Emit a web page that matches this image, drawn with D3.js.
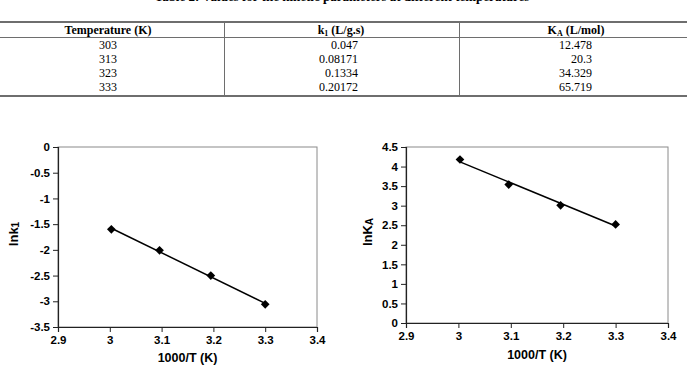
<!DOCTYPE html>
<html>
<head>
<meta charset="utf-8">
<script src="https://cdn.jsdelivr.net/npm/d3@7"></script>
<style>
	body { margin: 0; background: #fff; }
	svg { display: block; }
</style>
</head>
<body>
<div id="chart"></div>
<script>
	// table contents
	const tableTitle = 'Table 2: Values for the kinetic parameters at different temperatures';
	const tableHeaders = ['Temperature (K)', 'k1 (L/g.s)', 'KA (L/mol)'];
	const temperatures = ['303', '313', '323', '333'];
	const k1Values = ['0.047', '0.08171', '0.1334', '0.20172'];
	const kaValues = ['12.478', '20.3', '34.329', '65.719'];

	// plot points
	const invT = [3.003, 3.096, 3.195, 3.300];
	const lnK1 = [-1.60, -2.01, -2.50, -3.06];
	const lnKA = [4.18, 3.54, 3.01, 2.52];

	// trend lines (end points)
	const trendX = [3.003, 3.300];
	const trendK1 = [-1.58, -3.04];
	const trendKA = [4.12, 2.48];

	const xTicks = [2.9, 3, 3.1, 3.2, 3.3, 3.4];
	const yTicksK1 = [0, -0.5, -1, -1.5, -2, -2.5, -3, -3.5];
	const yTicksKA = [0, 0.5, 1, 1.5, 2, 2.5, 3, 3.5, 4, 4.5];

	const width = 687, height = 371;
	const svg = d3.select('#chart').append('svg')
		.attr('width', width)
		.attr('height', height);

	const serif = '"Liberation Serif", "Times New Roman", serif';
	const sans = '"Liberation Sans", Arial, sans-serif';

	// ---- table ----
	// title sits mostly above the top edge, as in the source scan
	svg.append('text')
		.attr('x', 342)
		.attr('y', 1)
		.attr('text-anchor', 'middle')
		.attr('font-family', serif)
		.attr('font-weight', 'bold')
		.attr('font-size', 13)
		.text(tableTitle);

	const colEdges = [0, 224, 459, 687];
	const lineColor = '#6e6e6e';

	svg.append('line')
		.attr('x1', 0).attr('x2', width)
		.attr('y1', 22).attr('y2', 22)
		.attr('stroke', lineColor).attr('stroke-width', 2);
	svg.append('line')
		.attr('x1', 0).attr('x2', width)
		.attr('y1', 37.5).attr('y2', 37.5)
		.attr('stroke', lineColor).attr('stroke-width', 1);
	svg.append('line')
		.attr('x1', 0).attr('x2', width)
		.attr('y1', 96).attr('y2', 96)
		.attr('stroke', lineColor).attr('stroke-width', 2);
	[colEdges[1], colEdges[2]].forEach(function(x){
		svg.append('line')
			.attr('x1', x + 0.5).attr('x2', x + 0.5)
			.attr('y1', 22).attr('y2', 96)
			.attr('stroke', lineColor).attr('stroke-width', 1);
	});

	// header with subscripts
	const headerY = 34;
	svg.append('text')
		.attr('x', 108).attr('y', headerY)
		.attr('text-anchor', 'middle')
		.attr('font-family', serif).attr('font-weight', 'bold').attr('font-size', 12)
		.text(tableHeaders[0]);
	const h1 = svg.append('text')
		.attr('x', 341).attr('y', headerY)
		.attr('text-anchor', 'middle')
		.attr('font-family', serif).attr('font-weight', 'bold').attr('font-size', 12);
	h1.append('tspan').text('k');
	h1.append('tspan').attr('font-size', 8).attr('dy', 2).text('1');
	h1.append('tspan').attr('dy', -2).text(' (L/g.s)');
	const h2 = svg.append('text')
		.attr('x', 576).attr('y', headerY)
		.attr('text-anchor', 'middle')
		.attr('font-family', serif).attr('font-weight', 'bold').attr('font-size', 12);
	h2.append('tspan').text('K');
	h2.append('tspan').attr('font-size', 8).attr('dy', 2).text('A');
	h2.append('tspan').attr('dy', -2).text(' (L/mol)');

	const rowY = [49, 63, 77, 91];
	temperatures.forEach(function(t, i){
		svg.append('text')
			.attr('x', 108).attr('y', rowY[i])
			.attr('text-anchor', 'middle')
			.attr('font-family', serif).attr('font-size', 12)
			.text(t);
		svg.append('text')
			.attr('x', 358).attr('y', rowY[i])
			.attr('text-anchor', 'end')
			.attr('font-family', serif).attr('font-size', 12)
			.text(k1Values[i]);
		svg.append('text')
			.attr('x', 592).attr('y', rowY[i])
			.attr('text-anchor', 'end')
			.attr('font-family', serif).attr('font-size', 12)
			.text(kaValues[i]);
	});

	// ---- charts ----
	const tickFmt = function(d){ return String(d); };

	function drawChart(opts){
		const g = svg.append('g');
		const x = d3.scaleLinear().domain([2.9, 3.4]).range([opts.left, opts.right]);
		const y = d3.scaleLinear().domain(opts.yDomain).range([opts.bottom, opts.top]);

		// plot frame
		g.append('rect')
			.attr('x', opts.left).attr('y', opts.top)
			.attr('width', opts.right - opts.left)
			.attr('height', opts.bottom - opts.top)
			.attr('fill', 'none')
			.attr('stroke', '#8a8a8a')
			.attr('stroke-width', 1);

		const yAxis = g.append('g')
			.attr('transform', 'translate(' + opts.left + ',0)')
			.call(d3.axisLeft(y).tickValues(opts.yTicks).tickSize(5).tickPadding(3).tickFormat(tickFmt));
		const xAxis = g.append('g')
			.attr('transform', 'translate(0,' + opts.bottom + ')')
			.call(d3.axisBottom(x).tickValues(xTicks).tickSize(5).tickPadding(4).tickFormat(tickFmt));

		[xAxis, yAxis].forEach(function(ax){
			ax.select('.domain').attr('stroke', '#222').attr('stroke-width', 1.2);
			ax.selectAll('.tick line').attr('stroke', '#222');
			ax.selectAll('.tick text')
				.attr('font-family', sans)
				.attr('font-weight', 'bold')
				.attr('font-size', 11.5)
				.attr('fill', '#000');
		});

		// trend line
		const line = d3.line()
			.x(function(d){ return x(d[0]); })
			.y(function(d){ return y(d[1]); });
		g.append('path')
			.datum(trendX.map(function(v, i){ return [v, opts.trend[i]]; }))
			.attr('d', line)
			.attr('fill', 'none')
			.attr('stroke', '#000')
			.attr('stroke-width', 1.5);

		// diamond markers
		const diamond = d3.symbol(d3.symbolSquare, 38);
		g.selectAll('path.pt')
			.data(invT.map(function(v, i){ return [v, opts.values[i]]; }))
			.enter().append('path')
			.attr('class', 'pt')
			.attr('d', diamond)
			.attr('transform', function(d){ return 'translate(' + x(d[0]) + ',' + y(d[1]) + ') rotate(45)'; })
			.attr('fill', '#000');

		// axis titles
		g.append('text')
			.attr('x', (opts.left + opts.right) / 2)
			.attr('y', opts.xTitleY)
			.attr('text-anchor', 'middle')
			.attr('font-family', sans).attr('font-weight', 'bold').attr('font-size', 12.5)
			.text('1000/T (K)');

		const yt = g.append('text')
			.attr('transform', 'translate(' + opts.yTitleX + ',' + opts.yTitleY + ') rotate(-90)')
			.attr('text-anchor', 'middle')
			.attr('font-family', sans).attr('font-weight', 'bold').attr('font-size', 13);
		yt.append('tspan').text(opts.yTitle);
		yt.append('tspan').attr('font-size', 10).attr('dy', 1).text(opts.ySub);
	}

	drawChart({
		left: 58, right: 317, top: 147, bottom: 327,
		yDomain: [-3.5, 0], yTicks: yTicksK1,
		values: lnK1, trend: trendK1,
		xTitleY: 362, yTitleX: 18, yTitleY: 234,
		yTitle: 'lnk', ySub: '1'
	});

	drawChart({
		left: 406, right: 668, top: 147, bottom: 323,
		yDomain: [0, 4.5], yTicks: yTicksKA,
		values: lnKA, trend: trendKA,
		xTitleY: 359, yTitleX: 372, yTitleY: 232,
		yTitle: 'lnK', ySub: 'A'
	});
</script>
</body>
</html>
